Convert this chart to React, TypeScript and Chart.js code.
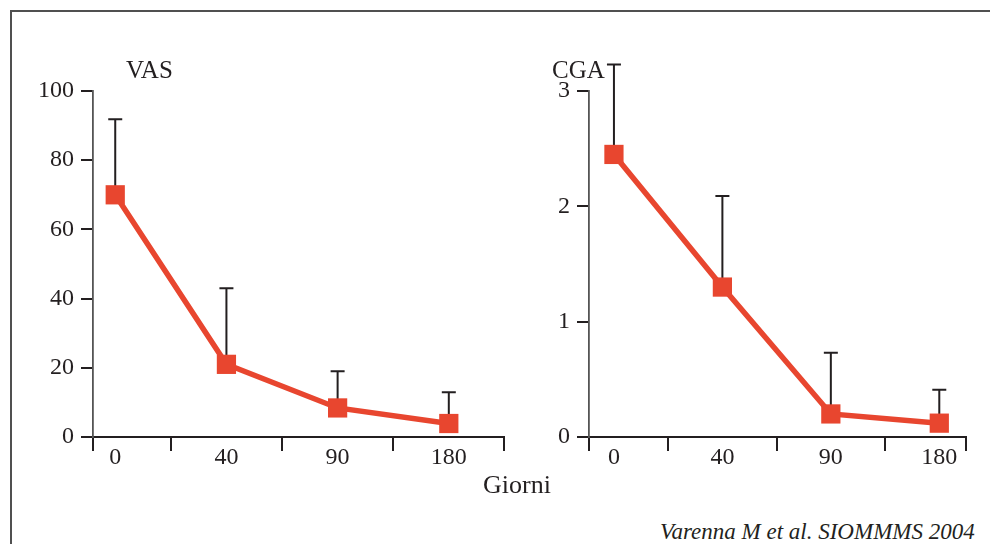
import React, { useEffect, useRef } from 'react';
import { Chart, registerables } from 'chart.js';

Chart.register(...registerables);

// ---- data ----
const categories = ['0', '40', '90', '180'];
const vasMean = [70, 21, 8.4, 3.9];
const vasUpper = [91.8, 43, 19, 12.9];
const cgaMean = [2.45, 1.3, 0.2, 0.12];
const cgaUpper = [3.23, 2.09, 0.73, 0.41];
const vasTicks = [0, 20, 40, 60, 80, 100];
const cgaTicks = [0, 1, 2, 3];

const RED = '#e8462f';
const INK = '#231f20';
const FONT = '"Liberation Serif", "Times New Roman", serif';

const errorBars = {
  id: 'errorBars',
  beforeDatasetsDraw(chart: any, _args: any, opts: any) {
    const upper: number[] = opts && opts.upper;
    if (!upper) return;
    const meta = chart.getDatasetMeta(0);
    const ys = chart.scales.y;
    const ctx = chart.ctx;
    ctx.save();
    ctx.strokeStyle = INK;
    ctx.lineWidth = 2;
    meta.data.forEach((pt: any, i: number) => {
      const x = pt.x;
      const y0 = pt.y;
      const y1 = ys.getPixelForValue(upper[i]);
      ctx.beginPath();
      ctx.moveTo(x, y0);
      ctx.lineTo(x, y1);
      ctx.moveTo(x - 7, y1);
      ctx.lineTo(x + 7, y1);
      ctx.stroke();
    });
    ctx.restore();
  },
};

function makeConfig(mean: number[], upper: number[], yMax: number, yTicks: number[], xMin: number, xMax: number): any {
  return {
    type: 'line',
    data: {
      datasets: [
        {
          data: mean.map((v, i) => ({ x: i, y: v })),
          borderColor: RED,
          backgroundColor: RED,
          borderWidth: 5.5,
          pointStyle: 'rect',
          pointRadius: 13.6,
          pointBorderWidth: 0,
          pointBackgroundColor: RED,
          tension: 0,
          clip: false,
        },
      ],
    },
    options: {
      responsive: false,
      animation: false,
      layout: { padding: { top: 41, right: 9, bottom: 0, left: 0 } },
      plugins: {
        legend: { display: false },
        tooltip: { enabled: false },
        errorBars: { upper },
      },
      scales: {
        x: {
          type: 'linear',
          min: xMin,
          max: xMax,
          afterBuildTicks: (s: any) => {
            const vals: number[] = [xMin];
            categories.forEach((_, i) => {
              vals.push(i);
              if (i < categories.length - 1) vals.push(i + 0.5);
            });
            vals.push(xMax);
            s.ticks = vals.map((v) => ({ value: v }));
          },
          afterFit: (s: any) => {
            s.height = 50;
          },
          border: { display: true, color: INK, width: 2 },
          grid: {
            drawOnChartArea: false,
            drawTicks: true,
            tickLength: 14,
            lineWidth: 2,
            tickColor: (c: any) =>
              c.tick && Number.isInteger(c.tick.value) ? 'rgba(0,0,0,0)' : INK,
          },
          ticks: {
            autoSkip: false,
            maxRotation: 0,
            minRotation: 0,
            padding: -8,
            color: INK,
            font: { family: FONT, size: 24 },
            callback: (v: number) =>
              Number.isInteger(v) && categories[v] !== undefined ? categories[v] : '',
          },
        },
        y: {
          type: 'linear',
          min: 0,
          max: yMax,
          afterBuildTicks: (s: any) => {
            s.ticks = yTicks.map((v) => ({ value: v }));
          },
          afterFit: (s: any) => {
            s.width = 80;
          },
          border: { display: true, color: '#555555', width: 1.8 },
          grid: {
            drawOnChartArea: false,
            drawTicks: true,
            tickLength: 12,
            lineWidth: 2,
            tickColor: INK,
          },
          ticks: {
            padding: 7,
            color: INK,
            font: { family: FONT, size: 24 },
          },
        },
      },
    },
    plugins: [errorBars],
  };
}

function Panel(props: {
  left: number;
  width: number;
  mean: number[];
  upper: number[];
  yMax: number;
  yTicks: number[];
  xMin: number;
  xMax: number;
}) {
  const ref = useRef<HTMLCanvasElement | null>(null);
  useEffect(() => {
    if (!ref.current) return;
    const chart = new Chart(
      ref.current,
      makeConfig(props.mean, props.upper, props.yMax, props.yTicks, props.xMin, props.xMax)
    );
    return () => chart.destroy();
  }, []);
  return (
    <canvas
      ref={ref}
      width={props.width}
      height={437}
      style={{ position: 'absolute', left: props.left, top: 50, width: props.width, height: 437 }}
    />
  );
}

const textBase: React.CSSProperties = {
  position: 'absolute',
  fontFamily: FONT,
  color: INK,
  lineHeight: 1,
  whiteSpace: 'nowrap',
};

export default function App() {
  return (
    <div
      style={{
        position: 'fixed',
        left: 0,
        top: 0,
        width: 990,
        height: 544,
        background: '#ffffff',
        overflow: 'hidden',
      }}
    >
      <div
        style={{
          position: 'absolute',
          left: 10,
          top: 10,
          width: 1000,
          height: 600,
          borderLeft: '2px solid #505050',
          borderTop: '2px solid #505050',
        }}
      />
      <Panel left={13} width={505} mean={vasMean} upper={vasUpper} yMax={100} yTicks={vasTicks} xMin={-0.2} xMax={3.5} />
      <Panel left={509} width={471} mean={cgaMean} upper={cgaUpper} yMax={3} yTicks={cgaTicks} xMin={-0.23} xMax={3.25} />
      <div style={{ ...textBase, left: 126, top: 57, fontSize: 25 }}>VAS</div>
      <div style={{ ...textBase, left: 552, top: 57, fontSize: 25 }}>CGA</div>
      <div style={{ ...textBase, left: 483, top: 472, fontSize: 26 }}>Giorni</div>
      <div style={{ ...textBase, left: 660, top: 520, fontSize: 23, fontStyle: 'italic' }}>
        Varenna M et al. SIOMMMS 2004
      </div>
    </div>
  );
}
